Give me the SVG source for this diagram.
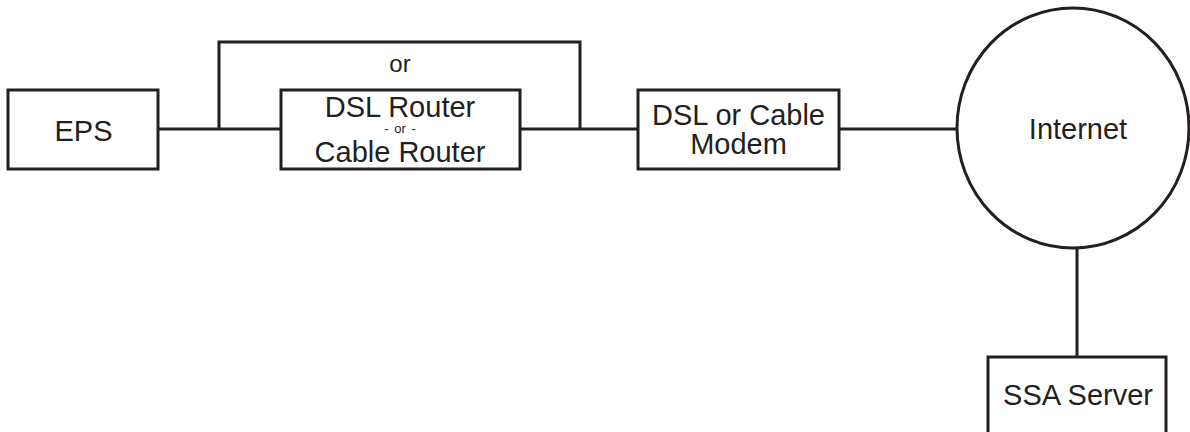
<svg xmlns="http://www.w3.org/2000/svg" width="1190" height="432" viewBox="0 0 1190 432">
<style>
.box{fill:#fff;stroke:#231f20;stroke-width:3}
.ln{fill:none;stroke:#231f20;stroke-width:3}
text{font-family:"Liberation Sans",Arial,sans-serif;fill:#231f20;text-anchor:middle}
.t{font-size:29px}
.o{font-size:24px}
.s{font-size:13px;word-spacing:2px}
</style>
<rect width="1190" height="432" fill="#fff"/>
<g id="connectors">
<path class="ln" d="M158,129 H281"/>
<path class="ln" d="M219,129 V42 H580 V129"/>
<path class="ln" d="M520,129 H638"/>
<path class="ln" d="M839,129 H957"/>
<path class="ln" d="M1077,248 V357"/>
</g>
<text class="o" x="400" y="72">or</text>
<g id="eps">
<rect class="box" x="8" y="90" width="150" height="79"/>
<text class="t" x="83.5" y="141">EPS</text>
</g>
<g id="router">
<rect class="box" x="281" y="90" width="239" height="79"/>
<text class="t" x="400" y="117">DSL Router</text>
<text class="s" x="400" y="133">- or -</text>
<text class="t" x="400" y="162">Cable Router</text>
</g>
<g id="modem">
<rect class="box" x="638" y="90" width="201" height="79"/>
<text class="t" x="738.5" y="125">DSL or Cable</text>
<text class="t" x="738.5" y="154">Modem</text>
</g>
<g id="internet">
<ellipse class="box" cx="1073" cy="128" rx="116" ry="120"/>
<text class="t" x="1078" y="139">Internet</text>
</g>
<g id="ssa">
<rect class="box" x="988" y="357" width="178" height="90"/>
<text class="t" x="1078" y="405">SSA Server</text>
</g>
</svg>
